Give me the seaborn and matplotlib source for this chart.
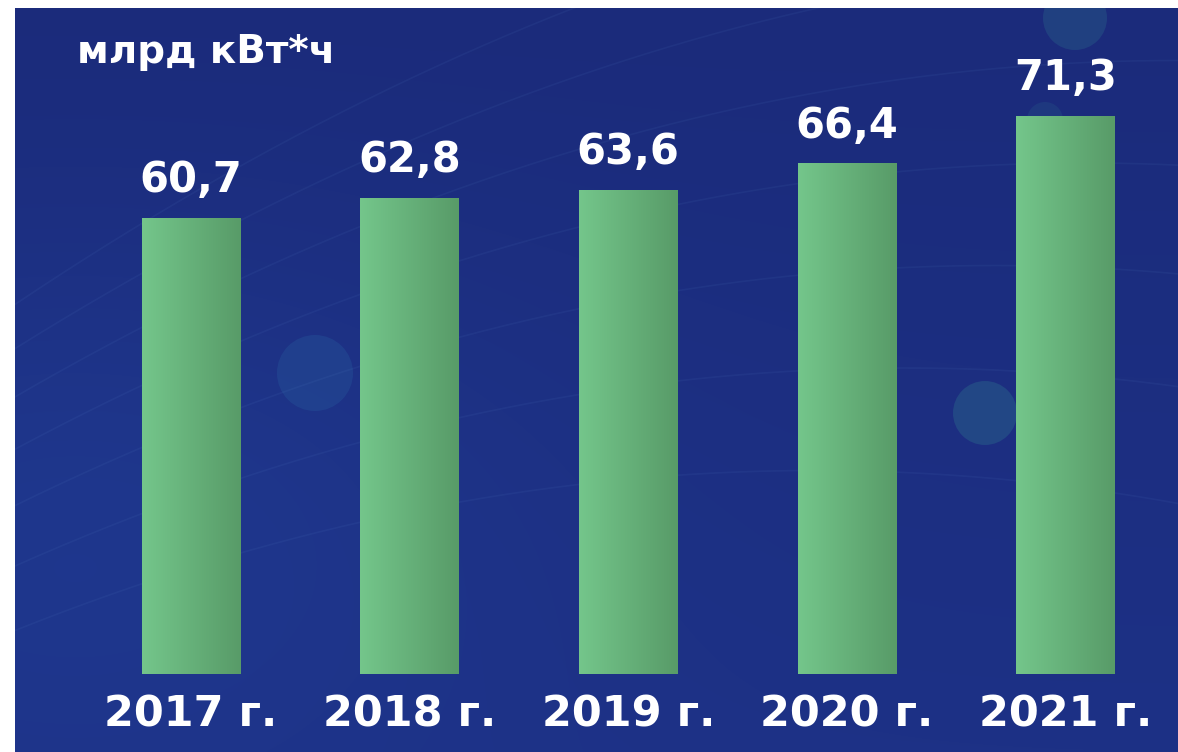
import numpy as np
import pandas as pd
import matplotlib
matplotlib.use('Agg')
import matplotlib.pyplot as plt
import seaborn as sns
from matplotlib.patches import Circle

years = ['2017 г.', '2018 г.', '2019 г.', '2020 г.', '2021 г.']
values = [60.7, 62.8, 63.6, 66.4, 71.3]
value_labels = ['60,7', '62,8', '63,6', '66,4', '71,3']
unit_label = 'млрд кВт*ч'

sns.set_theme(style='white')
plt.rcParams['font.family'] = ['DejaVu Sans']

W, H = 1178, 752
fig = plt.figure(figsize=(W / 100, H / 100), dpi=100, facecolor='white')

# фон: тёмно-синий градиент с бликами
bg = fig.add_axes([15 / W, 0, 1 - 15 / W, 1 - 8 / H])
bg.set_axis_off()
bw, bh = W - 15, H - 8
yy, xx = np.mgrid[0:bh, 0:bw]
top_c = np.array([0x1b, 0x2b, 0x7b]) / 255
bot_c = np.array([0x1d, 0x31, 0x86]) / 255
t = (yy / bh)[..., None]
img = top_c * (1 - t) + bot_c * t
glow = np.exp(-(((xx - 60) / 450) ** 2 + ((yy - 500) / 280) ** 2))[..., None]
img = img + glow * np.array([0.01, 0.03, 0.04])
bg.imshow(np.clip(img, 0, 1), extent=(0, bw, bh, 0), aspect='auto', zorder=0)
for (cx, cy, r, c, a) in [(300, 365, 38, '#25559a', 0.4), (970, 405, 32, '#28608a', 0.5),
                          (1060, 10, 32, '#28608a', 0.4), (1030, 112, 18, '#28608a', 0.25)]:
    bg.add_patch(Circle((cx, cy), r, color=c, alpha=a, lw=0, zorder=1))
for k in range(7):
    xs = np.linspace(0, bw, 200)
    ys = 600 - 80 * k + 0.00025 * (xs - 300 - 90 * k) ** 2 - 0.25 * xs
    bg.plot(xs, ys, color='#6f9fe0', alpha=0.07, lw=1.2, zorder=1)
bg.set_xlim(0, bw)
bg.set_ylim(bh, 0)

# столбцы
ax = fig.add_axes([81.7 / W, (H - 674) / H, 1093 / W, (674 - 8) / H])
ax.patch.set_alpha(0)
df = pd.DataFrame({'year': years, 'value': values})
sns.barplot(data=df, x='year', y='value', ax=ax, color='#66b47b', width=0.45,
            saturation=1, linewidth=0, zorder=2)
ymin = 13.4
ax.set_ylim(ymin, 82.6)
ax.set_xlim(-0.5, len(years) - 0.5)

grad = np.linspace(0, 1, 256)[None, :, None]
left_c = np.array([0x74, 0xc6, 0x8b]) / 255
right_c = np.array([0x58, 0x9b, 0x68]) / 255
gimg = left_c * (1 - grad) + right_c * grad
for p in ax.patches:
    x0 = p.get_x()
    top = p.get_y() + p.get_height()
    ax.imshow(gimg, extent=(x0, x0 + p.get_width(), ymin, top),
              aspect='auto', zorder=3)

for i, (v, lab) in enumerate(zip(values, value_labels)):
    ax.annotate(lab, (i, v), xytext=(0, 19), textcoords='offset points',
                ha='center', va='baseline', fontsize=30, fontweight='bold',
                color='white', zorder=4)

ax.set_xlabel('')
ax.set_ylabel('')
ax.set_yticks([])
ax.tick_params(axis='x', length=0, pad=14, labelsize=31, labelcolor='white')
for lbl in ax.get_xticklabels():
    lbl.set_fontweight('bold')
sns.despine(ax=ax, left=True, bottom=True)
ax.set_xlim(-0.5, len(years) - 0.5)
ax.set_ylim(ymin, 82.6)

fig.text(77 / W, (H - 63) / H, unit_label, fontsize=28, fontweight='bold',
         color='white', ha='left', va='baseline')

fig.savefig('out.png', dpi=100, facecolor='white')
